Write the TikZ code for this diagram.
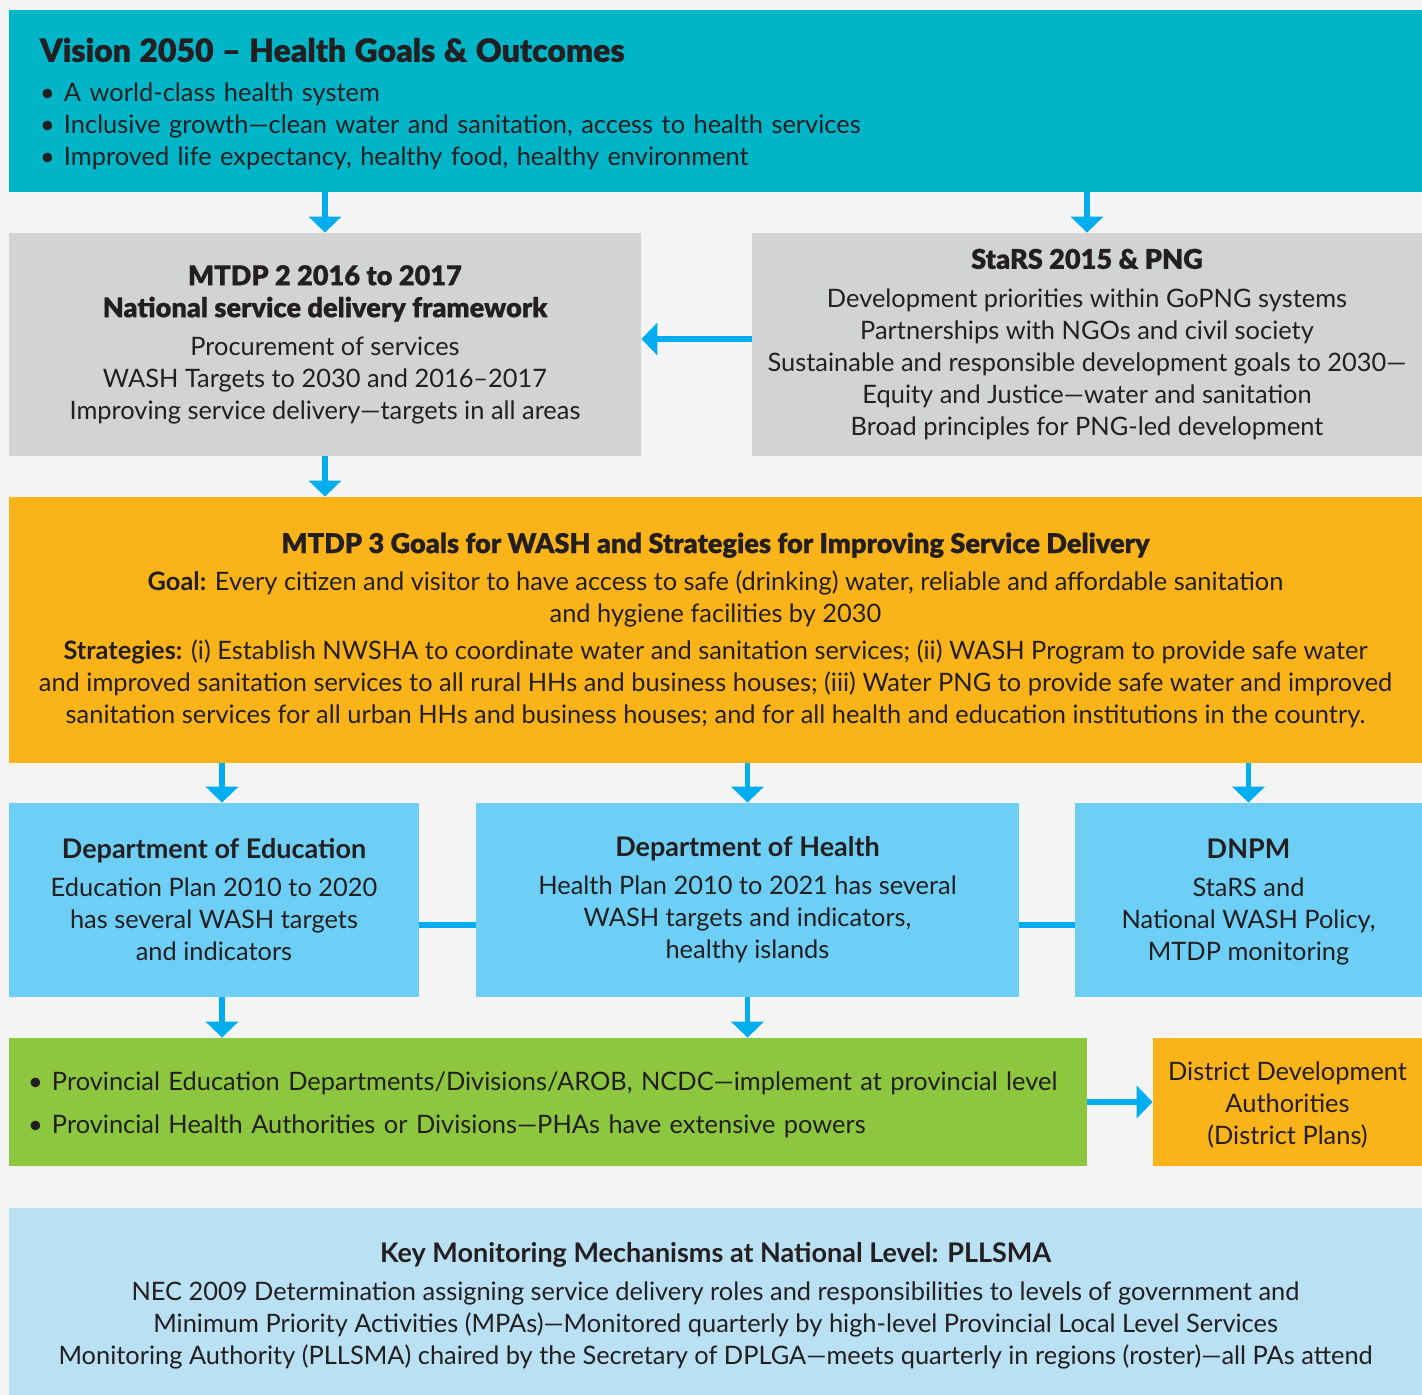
\documentclass[tikz,border=0pt]{standalone}
\usepackage{fontspec}
\setmainfont{Lato}
\newfontfamily\blackfont{Lato Black}[FakeBold=0.6]
\usetikzlibrary{arrows.meta}

\definecolor{pagebg}{HTML}{F4F4F4}
\definecolor{ink}{HTML}{231F20}
\definecolor{visteal}{HTML}{00B5C8}
\definecolor{greybox}{HTML}{D2D3D5}
\definecolor{goldbox}{HTML}{FBB31A}
\definecolor{skybox}{HTML}{6DCFF6}
\definecolor{greenbox}{HTML}{8DC63F}
\definecolor{palebox}{HTML}{BAE0F3}
\definecolor{flow}{HTML}{00AEEF}

\newcommand{\bul}{\makebox[12pt][l]{\textbullet}}
\newcommand{\hd}[1]{{\fontsize{13.5}{16}\selectfont\bfseries #1}}
\newcommand{\hv}[1]{{\fontsize{13.6}{16}\selectfont\blackfont #1}}

\begin{document}
\begin{tikzpicture}[x=0.5pt,y=-0.5pt,
  panel/.style={inner sep=0pt, text=ink, align=center,
    font=\fontsize{12.7}{16}\selectfont},
  flowarrow/.style={draw=flow, line width=2.6pt,
    -{Triangle[width=16pt,length=8pt]}},
  flowlink/.style={draw=flow, line width=2.6pt}]

% page
\fill[pagebg] (0,0) rectangle (1422,1395);
\useasboundingbox (0,0) rectangle (1422,1395);

% Vision 2050
\node[panel, fill=visteal, minimum width=706.5pt, minimum height=91pt,
      text width=675.5pt, align=left] (vis) at (715.5,101)
  {\rule{0pt}{15pt}{\fontsize{16}{16}\selectfont\blackfont Vision 2050 – Health Goals \& Outcomes}\\[4pt]
   \bul A world-class health system\\
   \bul Inclusive growth—clean water and sanitation, access to health services\\
   \bul Improved life expectancy, healthy food, healthy environment};

% MTDP 2
\node[panel, fill=greybox, minimum width=316pt, minimum height=111.5pt] (m2) at (325,344.5)
  {\hv{MTDP 2 2016 to 2017}\\\hv{National service delivery framework}\\[3pt]
   Procurement of services\\
   WASH Targets to 2030 and 2016–2017\\
   Improving service delivery—targets in all areas};

% StaRS
\node[panel, fill=greybox, minimum width=335pt, minimum height=111.5pt] (stars) at (1087,344.5)
  {\hv{StaRS 2015 \& PNG}\\[3.5pt]
   Development priorities within GoPNG systems\\
   Partnerships with NGOs and civil society\\
   Sustainable and responsible development goals to 2030—\\
   Equity and Justice—water and sanitation\\
   Broad principles for PNG-led development};

% MTDP 3
\node[panel, fill=goldbox, minimum width=706.5pt, minimum height=133pt] (m3) at (715.5,630)
  {\hv{MTDP 3 Goals for WASH and Strategies for Improving Service Delivery}\\[2.5pt]
   \textbf{Goal:} Every citizen and visitor to have access to safe (drinking) water, reliable and affordable sanitation\\
   and hygiene facilities by 2030\\[2.5pt]
   \textbf{Strategies:} (i) Establish NWSHA to coordinate water and sanitation services; (ii) WASH Program to provide safe water\\
   and improved sanitation services to all rural HHs and business houses; (iii) Water PNG to provide safe water and improved\\
   sanitation services for all urban HHs and business houses; and for all health and education institutions in the country.};

% Departments
\node[panel, fill=skybox, minimum width=205pt, minimum height=97pt] (edu) at (214,900)
  {\hd{Department of Education}\\[3pt]
   Education Plan 2010 to 2020\\
   has several WASH targets\\
   and indicators};
\node[panel, fill=skybox, minimum width=271.5pt, minimum height=97pt] (hea) at (747.5,900)
  {\hd{Department of Health}\\[3pt]
   Health Plan 2010 to 2021 has several\\
   WASH targets and indicators,\\
   healthy islands};
\node[panel, fill=skybox, minimum width=173.5pt, minimum height=97pt] (dnpm) at (1248.5,900)
  {\rule{0pt}{12pt}\hd{DNPM}\\[3pt]
   StaRS and\\
   National WASH Policy,\\
   MTDP monitoring};

% Provincial level
\node[panel, fill=greenbox, minimum width=539pt, minimum height=64pt,
      text width=520pt, align=left] (prov) at (548,1102)
  {\rule{0pt}{12pt}\bul Provincial Education Departments/Divisions/AROB, NCDC—implement at provincial level\\[5.5pt]
   \bul Provincial Health Authorities or Divisions—PHAs have extensive powers};

\node[panel, fill=goldbox, minimum width=134.5pt, minimum height=64pt] (dda) at (1287.5,1102)
  {\rule{0pt}{12pt}District Development\\Authorities\\(District Plans)};

% Monitoring
\node[panel, fill=palebox, minimum width=706.5pt, minimum height=93.5pt] (mon) at (715.5,1301.5)
  {\rule{0pt}{14pt}\hd{Key Monitoring Mechanisms at National Level: PLLSMA}\\[3pt]
   NEC 2009 Determination assigning service delivery roles and responsibilities to levels of government and\\
   Minimum Priority Activities (MPAs)—Monitored quarterly by high-level Provincial Local Level Services\\
   Monitoring Authority (PLLSMA) chaired by the Secretary of DPLGA—meets quarterly in regions (roster)—all PAs attend};

% connectors
\draw[flowarrow] (vis.south -| m2) -- (m2.north);
\draw[flowarrow] (vis.south -| stars) -- (stars.north);
\draw[flowarrow] ([yshift=2.75pt]stars.west) -- ([yshift=2.75pt]stars.west -| m2.east);
\draw[flowarrow] (m2.south) -- (m2.south |- m3.north);
\draw[flowarrow] ([xshift=4pt]edu.north |- m3.south) -- ([xshift=4pt]edu.north);
\draw[flowarrow] (hea.north |- m3.south) -- (hea.north);
\draw[flowarrow] (dnpm.north |- m3.south) -- (dnpm.north);
\draw[flowlink] ([yshift=-12.5pt]edu.east) -- ([yshift=-12.5pt]edu.east -| hea.west);
\draw[flowlink] ([yshift=-12.5pt]hea.east) -- ([yshift=-12.5pt]hea.east -| dnpm.west);
\draw[flowarrow] ([xshift=4pt]edu.south) -- ([xshift=4pt]edu.south |- prov.north);
\draw[flowarrow] (hea.south) -- (hea.south |- prov.north);
\draw[flowarrow] (prov.east) -- (dda.west);

\end{tikzpicture}
\end{document}
